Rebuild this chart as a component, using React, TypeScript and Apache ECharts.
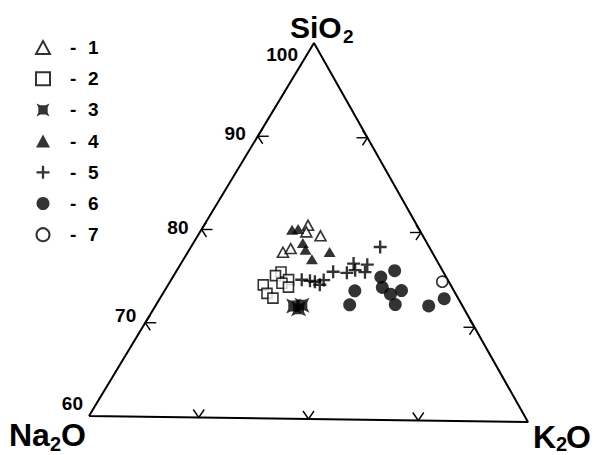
import React, { useEffect, useRef } from "react";
import * as echarts from "echarts";

// Compositions: [SiO2, Na2O, K2O] wt.%
const group1 = [[80.6, 10.0, 9.4], [79.9, 10.5, 9.6], [79.5, 9.4, 11.1], [77.7, 13.7, 8.6], [78.1, 12.8, 9.1]];
const group2 = [[75.6, 14.9, 9.5], [75.2, 15.6, 9.2], [74.8, 14.6, 10.6], [74.2, 17.2, 8.6], [74.4, 15.4, 10.2], [74.0, 15.0, 11.0], [73.3, 17.3, 9.4], [72.8, 17.0, 10.2]];
const group3 = [[72.0, 15.5, 12.5], [71.7, 15.2, 13.1], [72.1, 14.7, 13.2]];
const group4 = [[80.1, 11.7, 8.2], [80.2, 11.1, 8.7], [78.7, 11.4, 9.9], [78.0, 11.5, 10.5], [77.0, 11.4, 11.6], [77.8, 9.4, 12.8]];
const group5 = [[74.8, 13.4, 11.8], [74.7, 12.7, 12.6], [74.6, 12.3, 13.1], [74.3, 12.0, 13.7], [74.8, 11.4, 13.8], [75.7, 10.1, 14.2], [75.6, 8.9, 15.5], [76.6, 7.8, 15.6], [75.9, 8.0, 16.1], [76.5, 6.6, 16.9], [75.7, 7.2, 17.1], [78.4, 4.5, 17.1]];
const group6 = [[75.9, 4.4, 19.7], [75.2, 6.0, 18.8], [74.1, 6.4, 19.5], [73.7, 9.1, 17.2], [73.4, 6.0, 20.6], [73.8, 4.8, 21.4], [72.3, 6.1, 21.6], [72.2, 10.3, 17.5], [72.2, 3.1, 24.7], [73.0, 1.3, 25.7]];
const group7 = [[74.8, 0.6, 24.6]];

const legendNames = ["1", "2", "3", "4", "5", "6", "7"];
const siO2Ticks = [70, 80, 90];
const k2OTicks = [10, 20, 30];
const siO2TickLabels = [60, 70, 80, 90, 100];
const vertexNames = [
  ["SiO", "2", ""],
  ["Na", "2", "O"],
  ["K", "2", "O"],
];

// ---- layout (chart units = pixels of the 594x455 canvas) ----
const FONT = "'Liberation Sans', Arial, Helvetica, sans-serif";
const CORNER = { top: [314, 43], left: [89, 416], right: [528, 422] };
const tickLabelOffsets = [[-6, -13], [-9, -7], [-13, -2], [-12, -3], [-16, 11]];
// [dx, dy(baseline)] for main, subscript, tail parts; font sizes
const vertexLabelPos = [
  [[-24, -5], [29, 0], [0, 0]],
  [[-80, 30], [-39, 35], [-28, 30]],
  [[5, 26], [28, 29], [38, 26]],
];
const vertexFont = [[30, 19], [32, 20], [32, 20]];

function toXY(c: number[]): number[] {
  const sum = c[0] + c[1] + c[2];
  const s = (c[0] * 100 / sum - 60) / 40;
  const k = (c[2] * 100 / sum) / 40;
  const L = CORNER.left, R = CORNER.right, T = CORNER.top;
  return [
    L[0] + k * (R[0] - L[0]) + s * (T[0] - L[0]),
    L[1] + k * (R[1] - L[1]) + s * (T[1] - L[1]),
  ];
}

const CROSS_SQ = "path://M0,0 L30,14 L70,14 L100,0 L86,30 L86,70 L100,100 L70,86 L30,86 L0,100 L14,70 L14,30 Z";
const PLUS = "path://M41,0 L59,0 L59,41 L100,41 L100,59 L59,59 L59,100 L41,100 L41,59 L0,59 L0,41 L41,41 Z";

export default function App() {
  const ref = useRef<HTMLDivElement>(null);
  useEffect(() => {
    if (!ref.current) return;
    const chart = echarts.init(ref.current, null, { renderer: "svg" });
    const open = { color: "#fff", borderColor: "#000", borderWidth: 1.6 };
    const filled = { color: "#000", borderWidth: 0 };
    const pts = (g: number[][]) => g.map(toXY);

    const tickData = [
      ...siO2Ticks.map((v) => [...toXY([v, 100 - v, 0]), 0]),
      ...k2OTicks.map((v) => [...toXY([60, 40 - v, v]), 1]),
      ...siO2Ticks.map((v) => [...toXY([v, 0, 100 - v]), 2]),
    ];
    const vertexData = [
      [...toXY([100, 0, 0]), 0],
      [...toXY([60, 40, 0]), 1],
      [...toXY([60, 0, 40]), 2],
    ];
    const poly = (points: number[][], w = 1.4) => ({
      type: "polyline",
      shape: { points },
      style: { stroke: "#000", lineWidth: w, fill: null },
    });
    const txt = (text: string, x: number, baseline: number, size: number) => ({
      type: "text",
      x,
      y: baseline - 0.3465 * size,
      style: {
        text,
        fontSize: size,
        fontWeight: "bold",
        fontFamily: FONT,
        fill: "#000",
        align: "left",
        verticalAlign: "middle",
      },
    });

    const legendRich = {
      s: { width: 15, fontSize: 19, fontWeight: "bold", fontFamily: FONT, color: "#000" },
      d: { width: 18, fontSize: 19, fontWeight: "bold", fontFamily: FONT, color: "#000" },
      n: { fontSize: 19, fontWeight: "bold", fontFamily: FONT, color: "#000" },
    };

    chart.setOption({
      animation: false,
      backgroundColor: "#fff",
      grid: { left: 0, right: 0, top: 0, bottom: 0 },
      xAxis: { type: "value", min: 0, max: 594, show: false },
      yAxis: { type: "value", min: 0, max: 455, inverse: true, show: false },
      legend: {
        data: legendNames,
        orient: "vertical",
        left: 35,
        top: 38,
        padding: 0,
        itemWidth: 14,
        itemHeight: 13,
        itemGap: 12.2,
        selectedMode: false,
        formatter: (name: string) => `{s| }{d|-}{n|${name}}`,
        textStyle: { fontSize: 19, fontWeight: "bold", fontFamily: FONT, color: "#000", rich: legendRich },
      },
      series: [
        {
          type: "line",
          data: [toXY([60, 40, 0]), toXY([100, 0, 0]), toXY([60, 0, 40]), toXY([60, 40, 0])],
          symbol: "none",
          lineStyle: { color: "#000", width: 2 },
          silent: true,
          z: 2,
        },
        {
          type: "custom",
          coordinateSystem: "cartesian2d",
          data: tickData,
          encode: { x: 0, y: 1 },
          silent: true,
          z: 3,
          renderItem: (_p: any, api: any) => {
            const p = api.coord([api.value(0), api.value(1)]);
            const kind = api.value(2);
            const x = p[0], y = p[1];
            let children: any[] = [];
            if (kind === 0) {
              children = [poly([[x + 5, y - 7.5], [x, y], [x + 5, y + 7.5]]), poly([[x, y], [x + 11, y]])];
            } else if (kind === 2) {
              children = [poly([[x - 5, y - 7.5], [x, y], [x - 5, y + 7.5]]), poly([[x, y], [x - 11, y]])];
            } else {
              children = [poly([[x - 5.5, y - 8], [x, y], [x + 5.5, y - 8]])];
            }
            return { type: "group", children };
          },
        },
        {
          type: "scatter",
          data: siO2TickLabels.map((v, i) => ({
            value: [...toXY([v, 100 - v, 0]), v],
            label: { offset: tickLabelOffsets[i] },
          })),
          symbolSize: 0,
          silent: true,
          z: 4,
          label: {
            show: true,
            position: "left",
            distance: 0,
            formatter: (p: any) => String(p.value[2]),
            fontSize: 19,
            fontWeight: "bold",
            fontFamily: FONT,
            color: "#000",
            opacity: 1,
          },
        },
        {
          type: "custom",
          coordinateSystem: "cartesian2d",
          data: vertexData,
          encode: { x: 0, y: 1 },
          silent: true,
          renderItem: (_p: any, api: any) => {
            const p = api.coord([api.value(0), api.value(1)]);
            const i = api.value(2);
            const parts = vertexNames[i];
            const pos = vertexLabelPos[i];
            const f = vertexFont[i];
            const children: any[] = [
              txt(parts[0], p[0] + pos[0][0], p[1] + pos[0][1], f[0]),
              txt(parts[1], p[0] + pos[1][0], p[1] + pos[1][1], f[1]),
            ];
            if (parts[2]) children.push(txt(parts[2], p[0] + pos[2][0], p[1] + pos[2][1], f[0]));
            return { type: "group", children };
          },
        },
        { name: "1", type: "scatter", data: pts(group1), symbol: "triangle", symbolSize: [11, 10], itemStyle: open, z: 5 },
        { name: "2", type: "scatter", data: pts(group2), symbol: "rect", symbolSize: 10, itemStyle: open, z: 5 },
        { name: "3", type: "scatter", data: pts(group3), symbol: CROSS_SQ, symbolSize: 15, itemStyle: filled, z: 5 },
        { name: "4", type: "scatter", data: pts(group4), symbol: "triangle", symbolSize: [12, 10], itemStyle: filled, z: 5 },
        { name: "5", type: "scatter", data: pts(group5), symbol: PLUS, symbolSize: 13, itemStyle: filled, z: 5 },
        { name: "6", type: "scatter", data: pts(group6), symbol: "circle", symbolSize: 13, itemStyle: filled, z: 5 },
        { name: "7", type: "scatter", data: pts(group7), symbol: "circle", symbolSize: 11, itemStyle: open, z: 5 },
      ],
    });
    return () => chart.dispose();
  }, []);
  return <div ref={ref} style={{ position: "fixed", left: 0, top: 0, width: 594, height: 455 }} />;
}
